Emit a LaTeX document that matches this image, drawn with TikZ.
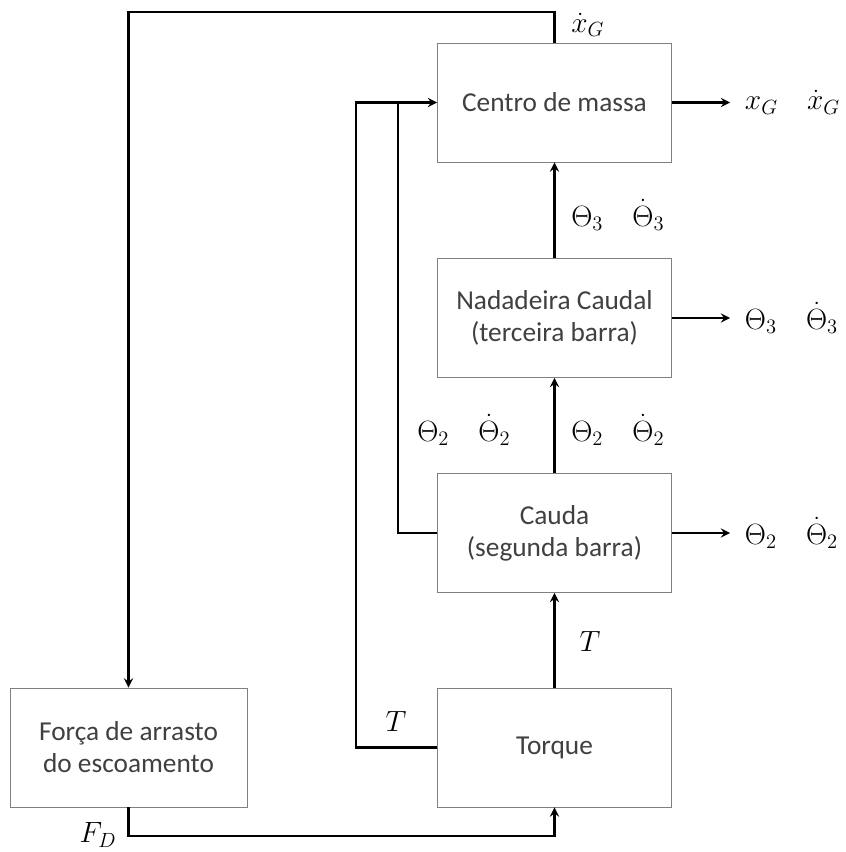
\documentclass[tikz,border=0pt]{standalone}
\usepackage{fix-cm}
\usepackage{amsmath, amssymb}
\usepackage{fontspec}
\setmainfont{Carlito}
\usetikzlibrary{shapes, arrows, positioning}

\begin{document}
\begin{tikzpicture}[x=0.75pt, y=-0.75pt, >=stealth,
    block/.style={draw=black!50, line width=0.7pt, text=black!75, minimum width=175.5pt, minimum height=89.25pt, inner sep=0pt, align=center, font=\fontsize{20.5}{24}\selectfont},
    signal/.style={line width=2pt},
    lbl/.style={inner sep=0pt, font=\fontsize{22}{26}\selectfont}]
    \useasboundingbox (0,0) rectangle (845,852);

    \node[block] (centro) at (554.5,102.5) {Centro de massa};
    \node[block] (nadadeira) at (554.5,318) {Nadadeira Caudal\\(terceira barra)};
    \node[block] (cauda) at (554.5,533) {Cauda\\(segunda barra)};
    \node[block] (torque) at (554.5,747.5) {Torque};
    \node[block, minimum width=177.75pt] (forca) at (128.5,747.5) {Força de arrasto\\do escoamento};

    \coordinate (topL) at (128.5,12);
    \coordinate (botL) at (128.5,836);
    \coordinate (fbT) at (356,102.5);
    \coordinate (fbC) at (398,102.5);
    \coordinate (outG) at (730,102.5);
    \coordinate (out3) at (730,318);
    \coordinate (out2) at (730,533);

    \draw[signal, ->] (centro.north) |- (topL) -- (forca.north);
    \draw[signal, ->] (forca.south) -- (botL) -| (torque.south);
    \draw[signal, ->] (torque.west) -| (fbT) -- (centro.west);
    \draw[signal] (cauda.west) -| (fbC);
    \draw[signal, ->] (torque.north) -- (cauda.south);
    \draw[signal, ->] (cauda.north) -- (nadadeira.south);
    \draw[signal, ->] (nadadeira.north) -- (centro.south);
    \draw[signal, ->] (centro.east) -- (outG);
    \draw[signal, ->] (nadadeira.east) -- (out3);
    \draw[signal, ->] (cauda.east) -- (out2);

    \node[lbl, anchor=west] (lxG) at (571,25) {$\dot{x}_G$};
    \node[lbl, right=11pt of outG] (loutG) {$x_G\quad\dot{x}_G$};
    \node[lbl, right=11pt of out3] (lout3) {$\Theta_3\quad\dot{\Theta}_3$};
    \node[lbl, right=11pt of out2] (lout2) {$\Theta_2\quad\dot{\Theta}_2$};
    \node[lbl, anchor=west] (lt3) at (571,215) {$\Theta_3\quad\dot{\Theta}_3$};
    \node[lbl, anchor=west] (lt2) at (571,430) {$\Theta_2\quad\dot{\Theta}_2$};
    \node[lbl, anchor=west] (lt2b) at (417,430) {$\Theta_2\quad\dot{\Theta}_2$};
    \node[lbl] (lT) at (590,641) {$T$};
    \node[lbl] (lTb) at (396,721) {$T$};
    \node[lbl] (lFD) at (98,835) {$F_D$};
\end{tikzpicture}
\end{document}
